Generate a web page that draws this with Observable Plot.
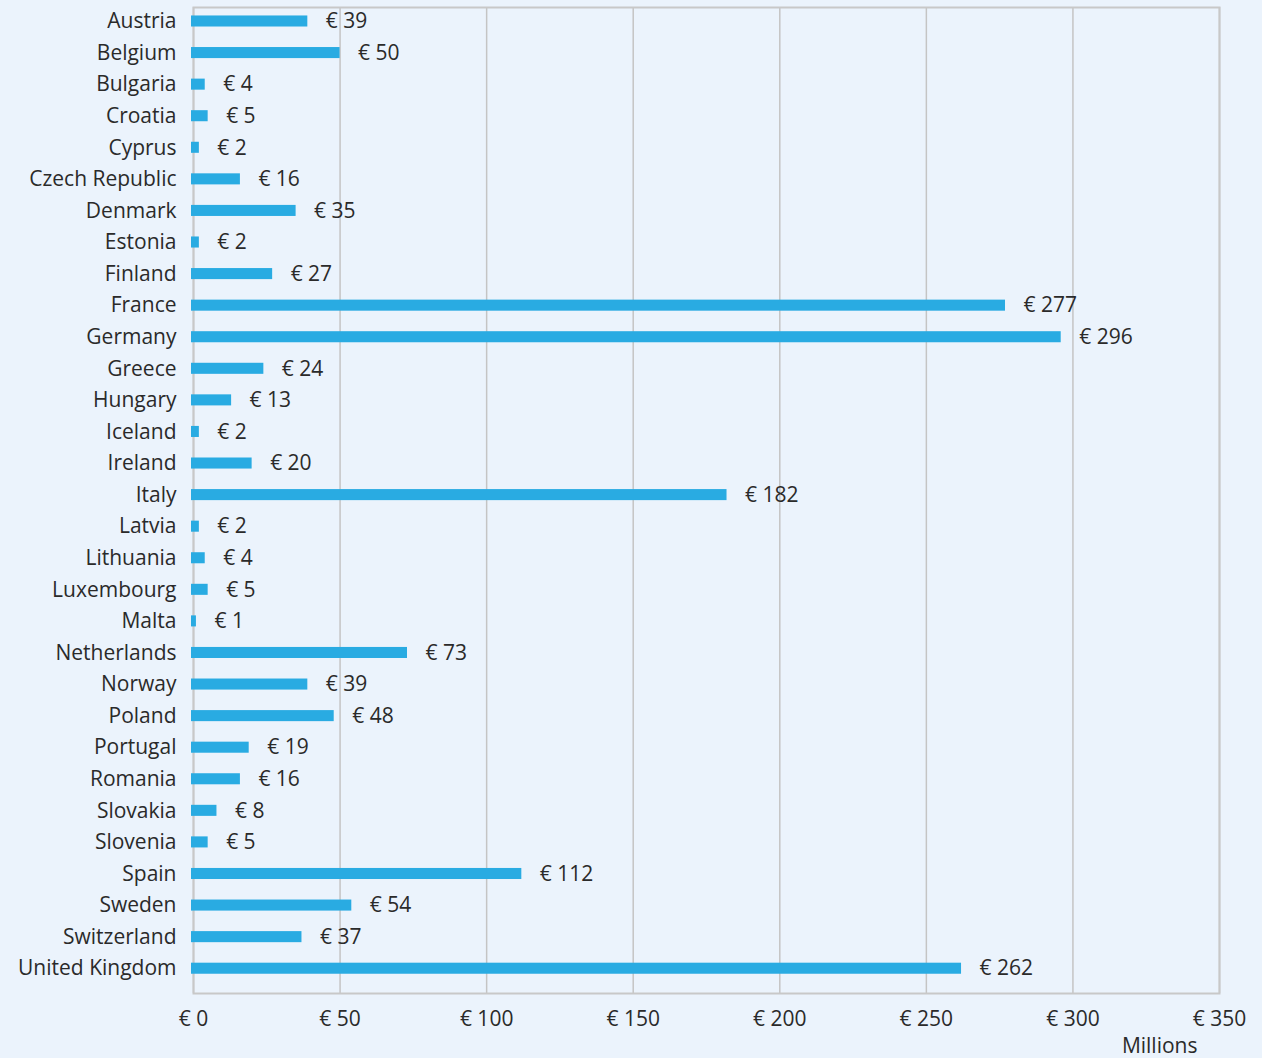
<!DOCTYPE html>
<html>
<head>
<meta charset="utf-8">
<script src="https://cdn.jsdelivr.net/npm/d3@7"></script>
<script src="https://cdn.jsdelivr.net/npm/@observablehq/plot@0.6"></script>
<style>
  html, body { margin: 0; padding: 0; background: #ebf3fc; }
  #chart svg { display: block; }
</style>
</head>
<body>
<div id="chart"></div>
<script>
const countries = ["Austria","Belgium","Bulgaria","Croatia","Cyprus","Czech Republic","Denmark","Estonia","Finland","France","Germany","Greece","Hungary","Iceland","Ireland","Italy","Latvia","Lithuania","Luxembourg","Malta","Netherlands","Norway","Poland","Portugal","Romania","Slovakia","Slovenia","Spain","Sweden","Switzerland","United Kingdom"];
const values = [39,50,4,5,2,16,35,2,27,277,296,24,13,2,20,182,2,4,5,1,73,39,48,19,16,8,5,112,54,37,262];
const xTicks = [0,50,100,150,200,250,300,350];
const unitLabel = "Millions";

const data = countries.map((c, i) => ({country: c, value: values[i]}));
const fmt = d => "€ " + d;
const FS = 21;

const chart = Plot.plot({
  width: 1262,
  height: 1058,
  marginLeft: 193,
  marginRight: 43,
  marginTop: 7,
  marginBottom: 65,
  style: {background: "#ebf3fc", fontFamily: "'Open Sans', sans-serif", fontSize: FS + "px", color: "#2a2a2a"},
  x: {domain: [0, 350], ticks: xTicks, tickFormat: fmt},
  y: {domain: countries, range: [5.2, 984], paddingInner: 0.65, paddingOuter: 0.325, align: 0.5, round: false},
  marks: [
    Plot.gridX(xTicks, {stroke: "#c4c4c4", strokeOpacity: 1, strokeWidth: 1.5}),
    Plot.frame({stroke: "#c8c8c8", strokeWidth: 2}),
    Plot.barX(data, {x: "value", y: "country", fill: "#29abe2", insetLeft: -2}),
    Plot.text(data, {x: "value", y: "country", text: d => fmt(d.value), textAnchor: "start", dx: 18, fill: "#2a2a2a", fontSize: FS}),
    Plot.axisX(xTicks, {tickSize: 0, tickPadding: 18, tickFormat: fmt, label: null, fontSize: FS, fill: "#2a2a2a"}),
    Plot.axisY({tickSize: 0, tickPadding: 17, label: null, fontSize: FS, fill: "#2a2a2a"}),
    Plot.text([unitLabel], {frameAnchor: "bottom-right", textAnchor: "end", dx: -22, dy: 59, fill: "#2a2a2a", fontSize: FS})
  ]
});
document.getElementById("chart").appendChild(chart);
</script>
</body>
</html>
